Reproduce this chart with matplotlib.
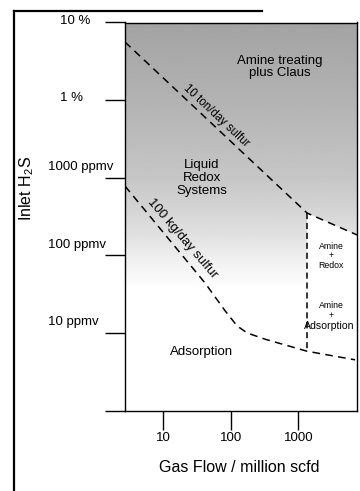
import matplotlib
matplotlib.use("Agg")
import matplotlib.pyplot as plt
import numpy as np
from matplotlib.lines import Line2D
from matplotlib.patches import Polygon
from matplotlib.ticker import NullLocator

plt.rcParams['font.family'] = ['Liberation Sans', 'DejaVu Sans']
plt.rcParams['mathtext.default'] = 'regular'

# axis limits (million scfd, ppmv)
x_lim = [2.71, 7400]
y_lim = [1, 1e5]

x_ticks = [10, 100, 1000]
x_tick_labels = ["10", "100", "1000"]
y_ticks = [1, 10, 100, 1000, 1e4, 1e5]
y_tick_labels = ["", "10 ppmv", "100 ppmv", "1000 ppmv", "1 %", "10 %"]

# "10 ton/day sulfur" boundary
upper_flow = [2.71, 1350, 7400]
upper_h2s = [56000, 350, 183]

# "100 kg/day sulfur" boundary
lower_flow = [2.71, 41.5, 82.6, 124, 174, 321, 636, 1350, 6920]
lower_h2s = [780, 44, 19.2, 12.3, 10.0, 8.3, 7.0, 5.8, 4.5]

# amine split
split_flow = [1350, 1350]
split_h2s = [350, 5.8]

fig = plt.figure(figsize=(3.6, 4.91), dpi=100)
ax = fig.add_axes([125 / 360, 1 - 410.5 / 491, 232 / 360, 388 / 491])
ax.set_xscale('log')
ax.set_yscale('log')
ax.set_xlim(x_lim)
ax.set_ylim(y_lim)

# stippled grey shading, fading downwards
py = np.linspace(22.5, 410.5, 400)
grey = np.interp(py, [22.5, 100, 180, 230, 265, 290], [0.64, 0.70, 0.78, 0.87, 0.95, 1.0])
img = np.repeat(grey[:, None], 2, axis=1)
im = ax.imshow(img, cmap='gray', vmin=0, vmax=1, extent=[0, 1, 0, 1],
               transform=ax.transAxes, aspect='auto', zorder=0, interpolation='bilinear')
clip = Polygon([(x_lim[0], y_lim[1]), (x_lim[1], y_lim[1]), (upper_flow[2], upper_h2s[2]),
                (upper_flow[1], upper_h2s[1]), (split_flow[1], y_lim[0]), (x_lim[0], y_lim[0])],
               closed=True, transform=ax.transData, facecolor='none', edgecolor='none')
ax.add_patch(clip)
im.set_clip_path(clip)

dash = (0, (5, 3.5))
ax.plot(upper_flow, upper_h2s, color='black', lw=1.1, linestyle=dash)
ax.plot(lower_flow, lower_h2s, color='black', lw=1.1, linestyle=dash)
ax.plot(split_flow, split_h2s, color='black', lw=1.1, linestyle=(0, (4, 2.5)))

# region labels
ax.text(526, 26700, "Amine treating\nplus Claus", ha='center', va='center', fontsize=9.5, linespacing=1.1)
ax.text(37.4, 991, "Liquid\nRedox\nSystems", ha='center', va='center', fontsize=9.5, linespacing=1.1)
ax.text(36.8, 5.7, "Adsorption", ha='center', va='center', fontsize=9.5)
ax.text(3080, 98, "Amine\n+\nRedox", ha='center', va='center', fontsize=6.3, linespacing=1.1)
ax.text(3080, 19.5, "Amine\n+", ha='center', va='center', fontsize=6.3, linespacing=1.1)
ax.text(2850, 12.3, "Adsorption", ha='center', va='center', fontsize=7.6)

# line labels sit just above their lines
ax.annotate("10 ton/day sulfur", xy=(54.5, 5540), xytext=(2.6, 2.8), textcoords='offset points',
            ha='center', va='center', fontsize=8.3, rotation=-43.2)
ax.annotate("100 kg/day sulfur", xy=(16.5, 148), xytext=(2.9, 2.5), textcoords='offset points',
            ha='center', va='center', fontsize=9.5, rotation=-49.5)

# axes styling
for s in ax.spines.values():
    s.set_linewidth(1.0)
ax.set_xticks(x_ticks)
ax.set_xticklabels(x_tick_labels, fontsize=9.5)
ax.xaxis.set_minor_locator(NullLocator())
ax.set_yticks(y_ticks)
ax.set_yticklabels([""] * len(y_ticks))
ax.yaxis.set_minor_locator(NullLocator())
ax.tick_params(axis='x', direction='out', length=13.5, width=1.0, pad=2)
ax.tick_params(axis='y', direction='out', length=14.4, width=1.0)

for val, lab in zip(y_ticks, y_tick_labels):
    if not lab:
        continue
    if '%' in lab:
        xpos, dy = -0.28, 1.2
    else:
        xpos, dy = -0.332, 7.5
    ax.annotate(lab, xy=(xpos, val), xycoords=('axes fraction', 'data'),
                xytext=(0, dy), textcoords='offset points',
                ha='left', va='center', fontsize=9.5, annotation_clip=False)

fig.text(239 / 360, 1 - 468 / 491, "Gas Flow / million scfd", ha='center', va='center', fontsize=11.5)
fig.text(27 / 360, 1 - 188 / 491, "Inlet H$_2$S", ha='center', va='center', rotation=90, fontsize=11.5)

# scanned page border
fig.add_artist(Line2D([14 / 360, 14 / 360], [0, 1 - 11 / 491], color='black', lw=1.6))
fig.add_artist(Line2D([14 / 360, 262 / 360], [1 - 11 / 491, 1 - 11 / 491], color='black', lw=1.6))

fig.savefig("out.png", dpi=100)
